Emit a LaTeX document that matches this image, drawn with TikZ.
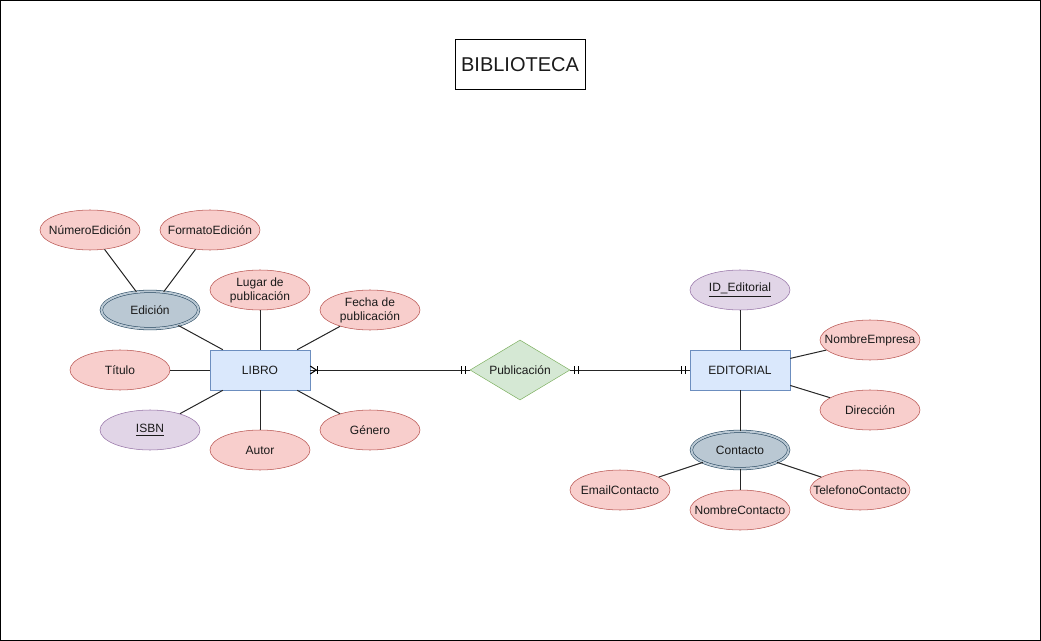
\documentclass[tikz,border=0pt]{standalone}
\usepackage{fontspec}
\setmainfont{Liberation Sans}
\usetikzlibrary{shapes.geometric,calc}
\definecolor{redf}{HTML}{F8CECC}\definecolor{redd}{HTML}{B85450}
\definecolor{purf}{HTML}{E1D5E7}\definecolor{purd}{HTML}{9673A6}
\definecolor{bluf}{HTML}{DAE8FC}\definecolor{blud}{HTML}{6C8EBF}
\definecolor{grnf}{HTML}{D5E8D4}\definecolor{grnd}{HTML}{82B366}
\definecolor{gryf}{HTML}{BAC8D3}\definecolor{gryd}{HTML}{23445D}
\definecolor{txt}{HTML}{1A1A1A}
\newcommand{\zw}[1]{\makebox[0pt][c]{#1}}
\tikzset{
  attr/.style={ellipse,draw=redd,fill=redf,minimum width=75pt,minimum height=30pt,inner sep=0pt,font=\fontsize{9}{10.5}\selectfont,text=txt,align=center},
  keyattr/.style={attr,draw=purd,fill=purf},
  multattr/.style={attr,draw=gryd,fill=gryf,double=gryf,double distance=1.5pt,minimum width=73pt,minimum height=28pt},
  entity/.style={rectangle,draw=blud,fill=bluf,minimum width=75pt,minimum height=30pt,inner sep=0pt,font=\fontsize{9}{10.5}\selectfont,text=txt},
  rel/.style={diamond,draw=grnd,fill=grnf,minimum width=75pt,minimum height=45pt,inner sep=0pt,aspect=1.667,font=\fontsize{9}{10.5}\selectfont,text=txt},
  conn/.style={draw=black!85,line width=0.75pt},
  tickmark/.style={draw=black,line width=0.75pt}
}
\begin{document}
\begin{tikzpicture}[x=0.75pt,y=-0.75pt]
\useasboundingbox (0,0) rectangle (1041,641);
\draw[black,line width=0.75pt] (0.5,0.5) rectangle (1040.5,640.5);
\node[draw=black,line width=0.75pt,minimum width=97.5pt,minimum height=37.5pt,inner sep=0pt,font=\fontsize{15}{18}\selectfont,text=txt] (title) at (520,65) {BIBLIOTECA};

% entities
\node[entity] (libro) at (260,370) {LIBRO};
\node[entity] (editorial) at (740,370) {EDITORIAL};
\node[rel] (pub) at (520,370) {\zw{Publicación}};

% LIBRO attributes
\node[attr] (numed) at (90,230) {\zw{NúmeroEdición}};
\node[attr] (formed) at (210,230) {\zw{FormatoEdición}};
\node[multattr] (edicion) at (150,310) {\zw{Edición}};
\node[attr] (lugar) at (260,290) {\zw{Lugar de}\\\zw{publicación}};
\node[attr] (fecha) at (370,310) {\zw{Fecha de}\\\zw{publicación}};
\node[attr] (titulo) at (120,370) {\zw{Título}};
\node[keyattr] (isbn) at (150,430) {\zw{\underline{ISBN}}};
\node[attr] (autor) at (260,450) {\zw{Autor}};
\node[attr] (genero) at (370,430) {\zw{Género}};

% EDITORIAL attributes
\node[keyattr] (ided) at (740,290) {\zw{\underline{ID\_Editorial}}};
\node[attr] (nomemp) at (870,340) {\zw{NombreEmpresa}};
\node[attr] (dir) at (870,410) {\zw{Dirección}};
\node[multattr] (contacto) at (740,450) {\zw{Contacto}};
\node[attr] (email) at (620,490) {\zw{EmailContacto}};
\node[attr] (nomcon) at (740,510) {\zw{NombreContacto}};
\node[attr] (tel) at (860,490) {\zw{TelefonoContacto}};

% attribute connectors
\draw[conn] (edicion) -- (numed);
\draw[conn] (edicion) -- (formed);
\draw[conn] (edicion) -- (libro);
\draw[conn] (lugar) -- (libro);
\draw[conn] (fecha) -- (libro);
\draw[conn] (titulo) -- (libro);
\draw[conn] (isbn) -- (libro);
\draw[conn] (autor) -- (libro);
\draw[conn] (genero) -- (libro);
\draw[conn] (ided) -- (editorial);
\draw[conn] (nomemp) -- (editorial);
\draw[conn] (dir) -- (editorial);
\draw[conn] (contacto) -- (editorial);
\draw[conn] (contacto) -- (email);
\draw[conn] (contacto) -- (nomcon);
\draw[conn] (contacto) -- (tel);

% relationship connectors
\draw[conn] (libro.east) -- (pub.west);
\draw[conn] (pub.east) -- (editorial.west);

% crow's foot (one or many) at LIBRO
\draw[tickmark] ($(libro.east)+(0,-4)$) -- ($(libro.east)+(6,0)$) -- ($(libro.east)+(0,4)$);
\draw[tickmark] ($(libro.east)+(7,-4)$) -- ($(libro.east)+(7,4)$);
% mandatory one at Publicacion (left)
\draw[tickmark] ($(pub.west)+(-4,-4)$) -- ($(pub.west)+(-4,4)$);
\draw[tickmark] ($(pub.west)+(-8,-4)$) -- ($(pub.west)+(-8,4)$);
% mandatory one at Publicacion (right)
\draw[tickmark] ($(pub.east)+(4,-4)$) -- ($(pub.east)+(4,4)$);
\draw[tickmark] ($(pub.east)+(8,-4)$) -- ($(pub.east)+(8,4)$);
% mandatory one at EDITORIAL
\draw[tickmark] ($(editorial.west)+(-4,-4)$) -- ($(editorial.west)+(-4,4)$);
\draw[tickmark] ($(editorial.west)+(-8,-4)$) -- ($(editorial.west)+(-8,4)$);
\end{tikzpicture}
\end{document}
